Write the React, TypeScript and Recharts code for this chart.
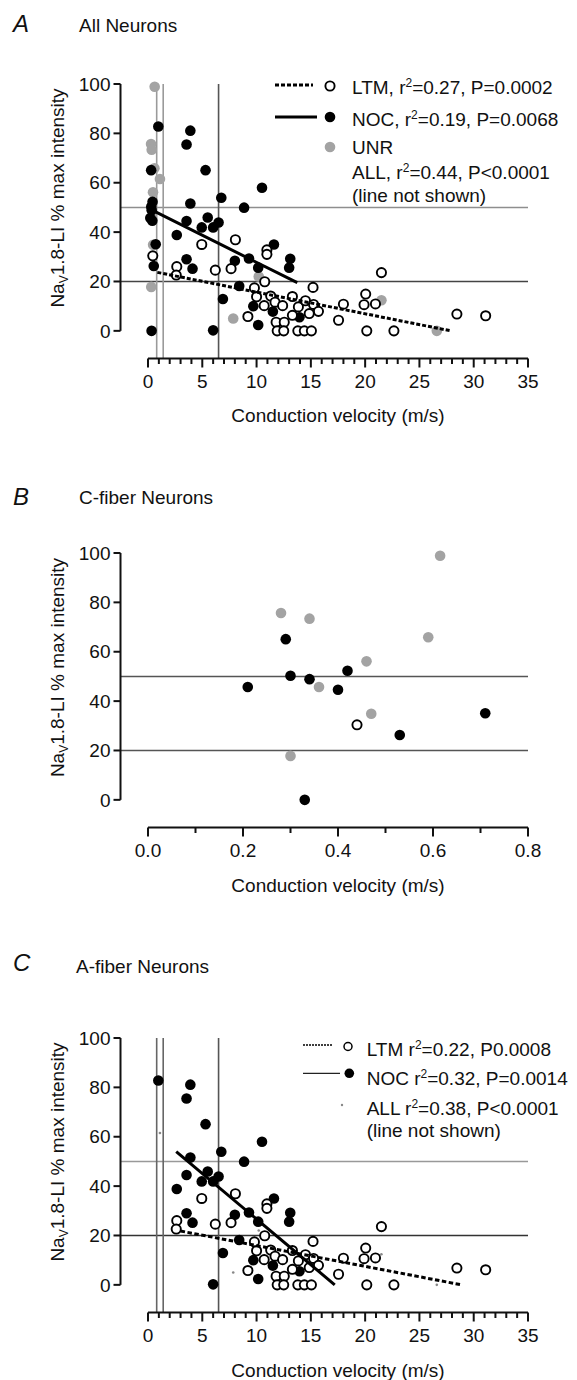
import React from 'react';
import { ScatterChart, Scatter, XAxis, YAxis, ReferenceLine } from 'recharts';

type Pt = [number, number];

// [conduction velocity (m/s), Nav1.8-LI % max intensity]
// C-fiber neurons (panel B)
const cFiberLtm: Pt[] = [[0.44, 30.4]];
const cFiberNoc: Pt[] = [
  [0.21, 45.7], [0.29, 65.1], [0.3, 50.3], [0.34, 48.9], [0.4, 44.6],
  [0.42, 52.3], [0.53, 26.3], [0.71, 35.1], [0.33, 0],
];
const cFiberUnr: Pt[] = [
  [0.28, 75.7], [0.34, 73.4], [0.59, 65.9], [0.615, 98.9], [0.46, 56.1],
  [0.36, 45.7], [0.47, 34.9], [0.3, 17.8],
];

// A-fiber neurons (panel C)
const aFiberNoc: Pt[] = [
  [0.95, 82.8], [3.9, 81.1], [3.55, 75.5], [5.3, 65.1], [10.5, 58], [6.75, 53.9],
  [3.9, 51.6], [8.85, 49.9], [2.65, 38.8], [3.55, 44.5], [5.5, 45.9], [4.95, 41.9],
  [6.0, 41.9], [6.5, 43.9], [11.6, 35], [3.55, 29], [4.1, 25.2], [8.0, 28.4],
  [9.3, 29.3], [10.15, 25.6], [13.1, 29.2], [13.0, 25.6], [8.4, 18.2], [6.9, 12.9],
  [9.7, 10], [10.15, 2.4], [6.0, 0.2], [11.5, 7.8], [13.95, 5.5],
];
const aFiberLtm: Pt[] = [
  [2.65, 26], [2.6, 22.6], [4.95, 35], [6.2, 24.6], [7.65, 25.2], [8.05, 36.9],
  [10.95, 32.8], [10.95, 31], [10.75, 19.9], [9.8, 17.4], [10.0, 13.8], [11.3, 14.1],
  [10.7, 10.2], [9.2, 5.8], [11.7, 11.6], [12.4, 10.2], [13.3, 13.9], [11.8, 3.5],
  [12.55, 3.5], [11.9, 0], [12.5, 0], [13.8, 0], [13.3, 6.3], [13.85, 9.7],
  [14.5, 12.2], [15.2, 17.6], [15.25, 10.7], [15.7, 7.9], [14.85, 7], [14.4, 0],
  [15.05, 0], [18, 10.8], [17.55, 4.3], [20.05, 14.9], [19.9, 10.6], [20.95, 10.9],
  [20.15, 0], [22.65, 0], [21.5, 23.6], [28.45, 6.8], [31.1, 6.1],
];
const aFiberUnr: Pt[] = [[1.1, 61.5], [7.85, 5], [10.2, 22], [21.5, 12.4], [26.6, 0]];

// regression lines as drawn in the figure (end points)
const fitLtmAll: Pt[] = [[0.86, 23.7], [27.9, 0]];
const fitNocAll: Pt[] = [[0.7, 48.2], [13.75, 19.5]];
const fitLtmAFiber: Pt[] = [[3.0, 21.8], [28.9, 0]];
const fitNocAFiber: Pt[] = [[2.6, 54], [17.2, 0]];

const yTicks = [0, 20, 40, 60, 80, 100];
const xTicksWide = [
  0, 1, 2, 3, 4, 5, 6, 7, 8, 9, 10, 11, 12, 13, 14, 15, 16, 17,
  18, 19, 20, 21, 22, 23, 24, 25, 26, 27, 28, 29, 30, 31, 32, 33, 34, 35,
];
const xTicksC = [0, 0.1, 0.2, 0.3, 0.4, 0.5, 0.6, 0.7, 0.8];

const FONT = '"Liberation Sans", Arial, sans-serif';
const GRAY = '#a3a3a3';

const toXY = (pts: Pt[]) => pts.map(([x, y]) => ({ x, y }));

const filled = (fill: string, r: number) => (p: any) => (
  <circle cx={p.cx} cy={p.cy} r={r} fill={fill} />
);
const openDot = (p: any) => (
  <circle cx={p.cx} cy={p.cy} r={4.6} fill="#fff" stroke="#000" strokeWidth={1.9} />
);
const noDot = () => <g />;

const yTick = (p: any) => (
  <g>
    <line x1={p.x - 7} x2={p.x} y1={p.y} y2={p.y} stroke="#111" strokeWidth={2} />
    <text x={p.x - 10} y={p.y} dy="0.35em" textAnchor="end" fontSize={19} fontFamily={FONT} fill="#111">
      {p.payload.value}
    </text>
  </g>
);

const xTick = (major: (v: number) => boolean, fmt: (v: number) => string) => (p: any) => {
  const v = p.payload.value;
  const m = major(v);
  return (
    <g>
      <line x1={p.x} x2={p.x} y1={p.y} y2={p.y + (m ? 9 : 5.5)} stroke="#111" strokeWidth={2} />
      {m && (
        <text x={p.x} y={p.y + 23} dy="0.35em" textAnchor="middle" fontSize={19} fontFamily={FONT} fill="#111">
          {fmt(v)}
        </text>
      )}
    </g>
  );
};

const Y_MIN = -11.2;

interface PanelProps {
  top: number;
  xMin: number;
  xMax: number;
  xTicks: number[];
  tick: (p: any) => React.ReactElement;
  hLines: { y: number; color: string }[];
  vLines: { x: number; color: string }[];
  series: React.ReactElement[];
}

function Panel({ top, xMin, xMax, xTicks, tick, hLines, vLines, series }: PanelProps) {
  return (
    <div style={{ position: 'absolute', left: 0, top: top - 84 }}>
      <ScatterChart width={577} height={400} margin={{ top: 84, right: 49, bottom: 11.5, left: 60.5 }}>
        <XAxis
          dataKey="x"
          type="number"
          domain={[xMin, xMax]}
          ticks={xTicks}
          interval={0}
          tickSize={0}
          tickMargin={0}
          axisLine={false}
          tickLine={false}
          tick={tick}
          height={30}
        />
        <YAxis
          dataKey="y"
          type="number"
          domain={[Y_MIN, 100]}
          ticks={yTicks}
          interval={0}
          tickSize={0}
          tickMargin={0}
          axisLine={false}
          tickLine={false}
          tick={yTick}
          width={60}
        />
        {hLines.map((h) => (
          <ReferenceLine key={`h${h.y}`} y={h.y} stroke={h.color} strokeWidth={1.6} />
        ))}
        {vLines.map((v) => (
          <ReferenceLine key={`v${v.x}`} x={v.x} stroke={v.color} strokeWidth={1.6} />
        ))}
        <ReferenceLine
          segment={[{ x: xMin, y: 0 }, { x: xMin, y: 100 }]}
          stroke="#111"
          strokeWidth={2}
        />
        <ReferenceLine
          segment={[{ x: 0, y: Y_MIN }, { x: xMax, y: Y_MIN }]}
          stroke="#111"
          strokeWidth={2}
        />
        {series}
      </ScatterChart>
    </div>
  );
}

const fitLine = (key: string, pts: Pt[], dash?: string) => (
  <Scatter
    key={key}
    data={toXY(pts)}
    shape={noDot}
    line={{ stroke: '#000', strokeWidth: 3, strokeDasharray: dash }}
    isAnimationActive={false}
  />
);

const Sup = ({ children }: { children: string }) => (
  <tspan dy={-7} fontSize={12}>{children}</tspan>
);

function YLabel({ cy }: { cy: number }) {
  return (
    <text transform={`translate(57, ${cy}) rotate(-90)`} textAnchor="middle" dy="0.35em" fontSize={19} fontFamily={FONT} fill="#111">
      Na<tspan fontSize={12} dy={4}>V</tspan>
      <tspan dy={-4}>1.8-LI % max intensity</tspan>
    </text>
  );
}

export default function App() {
  const allLtm = [...cFiberLtm, ...aFiberLtm];
  const allNoc = [...cFiberNoc, ...aFiberNoc];
  const allUnr = [...cFiberUnr, ...aFiberUnr];

  const wideTick = xTick((v) => v % 5 === 0, (v) => String(v));
  const cTick = xTick((v) => Math.round(v * 10) % 2 === 0, (v) => v.toFixed(1));

  const t = { fontSize: 19, fontFamily: FONT, fill: '#111' };

  return (
    <div style={{ position: 'absolute', left: 0, top: 0, width: 577, height: 1380, background: '#fff' }}>
      <Panel
        top={84}
        xMin={-2.533}
        xMax={35}
        xTicks={xTicksWide}
        tick={wideTick}
        hLines={[{ y: 50, color: '#8e8e8e' }, { y: 20, color: '#444' }]}
        vLines={[{ x: 0.8, color: '#9a9a9a' }, { x: 1.4, color: '#9a9a9a' }, { x: 6.5, color: '#555' }]}
        series={[
          <Scatter key="unr" data={toXY(allUnr)} shape={filled(GRAY, 5.3)} isAnimationActive={false} />,
          <Scatter key="noc" data={toXY(allNoc)} shape={filled('#000', 5.3)} isAnimationActive={false} />,
          <Scatter key="ltm" data={toXY(allLtm)} shape={openDot} isAnimationActive={false} />,
          fitLine('fl', fitLtmAll, '4 2'),
          fitLine('fn', fitNocAll),
        ]}
      />
      <Panel
        top={553.3}
        xMin={-0.0579}
        xMax={0.8}
        xTicks={xTicksC}
        tick={cTick}
        hLines={[{ y: 50, color: '#555' }, { y: 20, color: '#555' }]}
        vLines={[]}
        series={[
          <Scatter key="unr" data={toXY(cFiberUnr)} shape={filled(GRAY, 5.3)} isAnimationActive={false} />,
          <Scatter key="noc" data={toXY(cFiberNoc)} shape={filled('#000', 5.3)} isAnimationActive={false} />,
          <Scatter key="ltm" data={toXY(cFiberLtm)} shape={openDot} isAnimationActive={false} />,
        ]}
      />
      <Panel
        top={1038.3}
        xMin={-2.533}
        xMax={35}
        xTicks={xTicksWide}
        tick={wideTick}
        hLines={[{ y: 50, color: '#999' }, { y: 20, color: '#333' }]}
        vLines={[{ x: 0.8, color: '#666' }, { x: 1.4, color: '#666' }, { x: 6.5, color: '#555' }]}
        series={[
          <Scatter key="unr" data={toXY(aFiberUnr)} shape={filled('#888', 1.3)} isAnimationActive={false} />,
          <Scatter key="noc" data={toXY(aFiberNoc)} shape={filled('#000', 5.3)} isAnimationActive={false} />,
          <Scatter key="ltm" data={toXY(aFiberLtm)} shape={openDot} isAnimationActive={false} />,
          fitLine('fl', fitLtmAFiber, '4.5 2.5'),
          fitLine('fn', fitNocAFiber),
        ]}
      />

      <svg width={577} height={1380} style={{ position: 'absolute', left: 0, top: 0, pointerEvents: 'none' }}>
        {/* panel A */}
        <text x={13} y={24} dy="0.35em" fontSize={24} fontStyle="italic" fontFamily={FONT} fill="#111">A</text>
        <text x={79} y={25} dy="0.35em" {...t}>All Neurons</text>
        <YLabel cy={198} />
        <text x={338} y={415} dy="0.35em" textAnchor="middle" {...t}>Conduction velocity (m/s)</text>

        <line x1={275} x2={313} y1={85} y2={85} stroke="#000" strokeWidth={3} strokeDasharray="4 2" />
        <circle cx={330} cy={86} r={4.6} fill="#fff" stroke="#000" strokeWidth={1.9} />
        <text x={352} y={87} dy="0.35em" {...t}>LTM, r<Sup>2</Sup><tspan dy={7}>=0.27, P=0.0002</tspan></text>
        <line x1={275} x2={317} y1={117} y2={117} stroke="#000" strokeWidth={3} />
        <circle cx={330} cy={117} r={5.3} fill="#000" />
        <text x={352} y={119} dy="0.35em" {...t}>NOC, r<Sup>2</Sup><tspan dy={7}>=0.19, P=0.0068</tspan></text>
        <circle cx={330} cy={147} r={5.3} fill={GRAY} />
        <text x={352} y={147} dy="0.35em" {...t}>UNR</text>
        <text x={352} y={172} dy="0.35em" {...t}>ALL, r<Sup>2</Sup><tspan dy={7}>=0.44, P&lt;0.0001</tspan></text>
        <text x={352} y={195} dy="0.35em" {...t}>(line not shown)</text>

        {/* panel B */}
        <text x={13} y={497} dy="0.35em" fontSize={24} fontStyle="italic" fontFamily={FONT} fill="#111">B</text>
        <text x={79} y={497} dy="0.35em" {...t}>C-fiber Neurons</text>
        <YLabel cy={667.5} />
        <text x={338} y={885} dy="0.35em" textAnchor="middle" {...t}>Conduction velocity (m/s)</text>

        {/* panel C */}
        <text x={13} y={963} dy="0.35em" fontSize={24} fontStyle="italic" fontFamily={FONT} fill="#111">C</text>
        <text x={76} y={966} dy="0.35em" {...t}>A-fiber Neurons</text>
        <YLabel cy={1152} />
        <text x={338} y={1370} dy="0.35em" textAnchor="middle" {...t}>Conduction velocity (m/s)</text>

        <line x1={303} x2={333} y1={1045} y2={1045} stroke="#000" strokeWidth={1.3} strokeDasharray="2 1" />
        <circle cx={348} cy={1046.5} r={4} fill="#fff" stroke="#000" strokeWidth={1.5} />
        <text x={366.7} y={1049.7} dy="0.35em" {...t}>LTM r<Sup>2</Sup><tspan dy={7}>=0.22, P0.0008</tspan></text>
        <line x1={303} x2={340} y1={1073.3} y2={1073.3} stroke="#222" strokeWidth={1.3} />
        <circle cx={349.3} cy={1073.3} r={4.8} fill="#000" />
        <text x={366.7} y={1078} dy="0.35em" {...t}>NOC r<Sup>2</Sup><tspan dy={7}>=0.32, P=0.0014</tspan></text>
        <circle cx={342} cy={1105} r={1.2} fill="#888" />
        <text x={366.7} y={1108} dy="0.35em" {...t}>ALL r<Sup>2</Sup><tspan dy={7}>=0.38, P&lt;0.0001</tspan></text>
        <text x={366.7} y={1130} dy="0.35em" {...t}>(line not shown)</text>
      </svg>
    </div>
  );
}
